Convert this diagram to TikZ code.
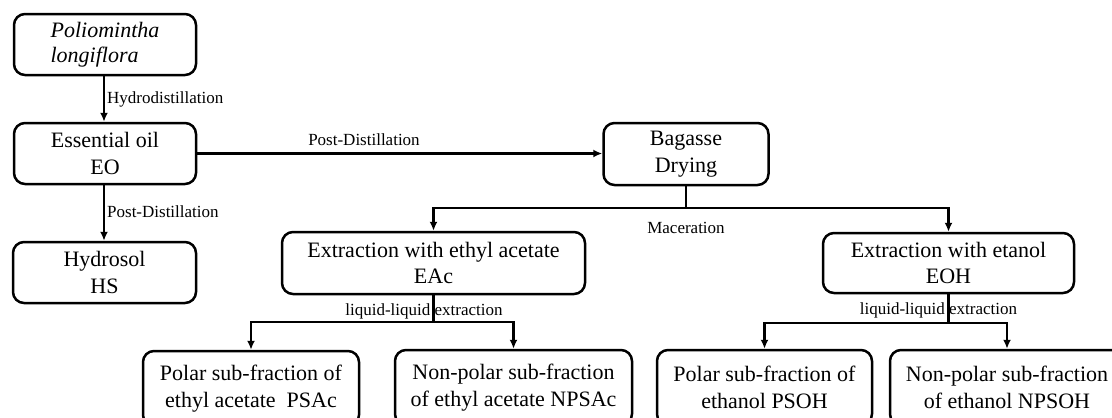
\documentclass[tikz,border=0pt]{standalone}
\usepackage{fontspec}
\setmainfont{Liberation Serif}
\usetikzlibrary{arrows.meta}
\tikzset{
  x=1pt,y=-1pt,
  box/.style={draw,line width=2.5pt,rounded corners=11pt,inner sep=0pt,align=center,
    font=\fontsize{22}{26.5}\selectfont},
  conn/.style={line width=2.3pt},
  arr/.style={conn,-{Latex[length=9pt,width=8pt]}},
  lbl/.style={font=\fontsize{17}{20}\selectfont,inner sep=0pt}
}
\begin{document}
\begin{tikzpicture}
\useasboundingbox (0,0) rectangle (1112,418);
\clip (0,0) rectangle (1112,418);
% nodes
\node[box,minimum width=182pt,minimum height=61pt] (P) at (105,44.5)
  {\begin{tabular}{@{}l@{}}\itshape Poliomintha\\[-1pt]\itshape longiflora\end{tabular}};
\node[box,minimum width=182pt,minimum height=61pt] (EO) at (105,153.5) {Essential oil\\EO};
\node[box,minimum width=183pt,minimum height=61pt] (HS) at (104.5,272.5) {Hydrosol\\HS};
\node[box,minimum width=165pt,minimum height=62pt] (BD) at (686,154) {Bagasse\\Drying};
\node[box,minimum width=303pt,minimum height=62pt] (EAc) at (433.5,263) {Extraction with ethyl acetate\\EAc};
\node[box,minimum width=251pt,minimum height=60pt] (EOH) at (948.5,263) {Extraction with etanol\\EOH};
\node[box,minimum width=216pt,minimum height=75pt] (PSAc) at (251,388.5) {Polar sub-fraction of\\ethyl acetate\ \ PSAc};
\node[box,minimum width=237pt,minimum height=75pt] (NPSAc) at (513.5,387.5) {Non-polar sub-fraction\\of ethyl acetate NPSAc};
\node[box,minimum width=215pt,minimum height=75pt] (PSOH) at (764.5,387.5) {Polar sub-fraction of\\ethanol PSOH};
\node[box,minimum width=234pt,minimum height=75pt] (NPSOH) at (1007,387.5) {Non-polar sub-fraction\\of ethanol NPSOH};
% coordinates
\coordinate (mac) at (686,208);
\coordinate (lle1) at (433.5,322);
\coordinate (lle2) at (948.5,323);
% connectors
\draw[arr] (P.south -| 104,0) -- (EO.north -| 104,0);
\draw[arr] (EO.east) -- (BD.west |- EO.east);
\draw[arr] (EO.south -| 104,0) -- (HS.north -| 104,0);
\draw[conn] (BD.south) -- (mac);
\draw[arr] (mac) -| (EAc.north);
\draw[arr] (mac) -| (EOH.north);
\draw[conn] (EAc.south) -- (lle1);
\draw[arr] (lle1) -| (PSAc.north);
\draw[arr] (lle1) -| (NPSAc.north);
\draw[conn] (EOH.south) -- (lle2);
\draw[arr] (lle2) -| (PSOH.north);
\draw[arr] (lle2) -| (NPSOH.north);
% labels
\node[lbl,anchor=west] (l1) at (107,99) {Hydrodistillation};
\node[lbl] (l2) at (364,140) {Post-Distillation};
\node[lbl,anchor=west] (l3) at (107,212) {Post-Distillation};
\node[lbl] (l4) at (686,228) {Maceration};
\node[lbl] (l5) at (424,311) {liquid-liquid extraction};
\node[lbl] (l6) at (938.5,310) {liquid-liquid extraction};
\end{tikzpicture}
\end{document}
